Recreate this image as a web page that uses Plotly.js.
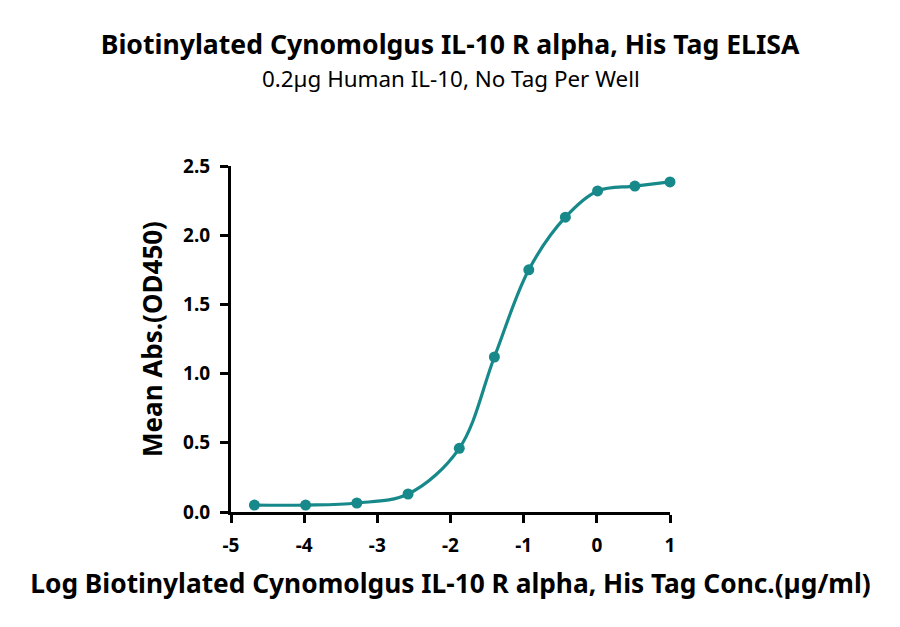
<!DOCTYPE html>
<html>
<head>
<meta charset="utf-8">
<script src="https://cdn.plot.ly/plotly-3.0.1.min.js"></script>
<style>
  html, body { margin: 0; padding: 0; background: #fff; }
  #chart { width: 900px; height: 627px; }
</style>
</head>
<body>
<div id="chart"></div>
<script>
// log concentration (µg/ml) and mean OD450
const logConc = [-4.68, -3.98, -3.28, -2.58, -1.88, -1.40, -0.93, -0.43, 0.01, 0.52, 1.0];
const meanAbs = [0.05, 0.05, 0.065, 0.13, 0.46, 1.12, 1.75, 2.13, 2.32, 2.355, 2.385];

const xTicks = [-5, -4, -3, -2, -1, 0, 1];
const yTicks = [0, 0.5, 1, 1.5, 2, 2.5];

const TEAL = "#17898a";
const FONT = "Noto Sans, sans-serif";

const traces = [
  {
    x: logConc,
    y: meanAbs,
    mode: "lines",
    line: { color: TEAL, width: 3.2, shape: "spline", smoothing: 1 },
    hoverinfo: "skip",
    showlegend: false,
  },
  {
    x: logConc,
    y: meanAbs,
    mode: "markers",
    marker: { color: TEAL, size: 11 },
    cliponaxis: false,
    showlegend: false,
  },
];

const axisCommon = {
  showgrid: false,
  zeroline: false,
  showline: true,
  linecolor: "#000",
  linewidth: 3,
  ticks: "outside",
  ticklen: 8,
  tickwidth: 3,
  tickcolor: "#000",
  ticklabelstandoff: 6,
  tickfont: { family: FONT, size: 19, color: "#000", weight: 700 },
};

const layout = {
  width: 900,
  height: 627,
  paper_bgcolor: "#fff",
  plot_bgcolor: "#fff",
  margin: { l: 231, r: 230, t: 166, b: 115 },
  title: {
    text: "<b>Biotinylated Cynomolgus IL-10 R alpha, His Tag ELISA</b>",
    font: { family: FONT, size: 26.6, color: "#000" },
    x: 0.5,
    xanchor: "center",
    y: 0.928,
    yanchor: "middle",
  },
  annotations: [
    {
      text: "0.2µg Human IL-10, No Tag Per Well",
      xref: "paper",
      yref: "paper",
      x: 0.5,
      y: 1.254,
      xanchor: "center",
      yanchor: "middle",
      showarrow: false,
      font: { family: FONT, size: 22.4, color: "#000" },
    },
  ],
  xaxis: {
    ...axisCommon,
    range: [-5, 1],
    tickvals: xTicks,
    ticktext: xTicks.map(String),
    title: {
      text: "<b>Log Biotinylated Cynomolgus IL-10 R alpha, His Tag Conc.(µg/ml)</b>",
      font: { family: FONT, size: 26.3, color: "#000" },
      standoff: 18,
    },
  },
  yaxis: {
    ...axisCommon,
    range: [0, 2.5],
    tickvals: yTicks,
    ticktext: yTicks.map((v) => v.toFixed(1)),
    title: {
      text: "<b>Mean Abs.(OD450)</b>",
      font: { family: FONT, size: 26, color: "#000" },
      standoff: 14,
    },
  },
};

Plotly.newPlot("chart", traces, layout, { displayModeBar: false, staticPlot: true });
</script>
</body>
</html>
